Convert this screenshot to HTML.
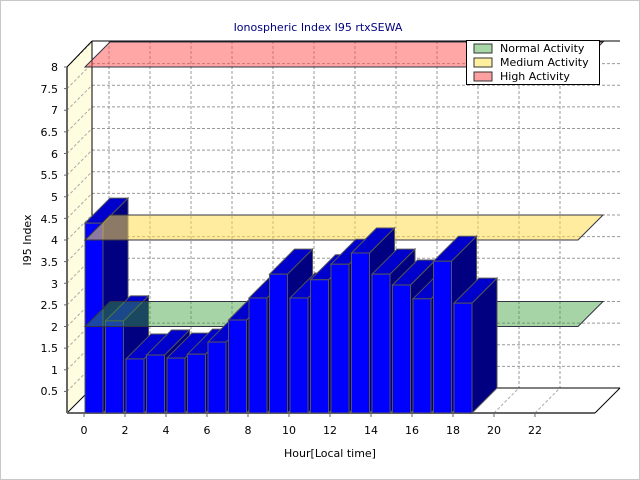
<!DOCTYPE html>
<html><head><meta charset="utf-8"><style>
html,body{margin:0;padding:0;background:#fff}
svg{display:block;font-family:"DejaVu Sans","Liberation Sans",sans-serif}
</style></head><body>
<svg id="s" width="640" height="480" viewBox="0 0 640 480" xmlns="http://www.w3.org/2000/svg">
<rect x="0.5" y="0.5" width="639" height="479" fill="#fff" stroke="#c8c8c8"/>
<text x="318" y="31" font-size="11" fill="#000080" text-anchor="middle">Ionospheric Index I95 rtxSEWA</text>
<g id="grid"></g>
<g id="bars1"></g>
<g id="bands"></g>
<g id="bars2"></g>
<g font-size="11" fill="#000" text-anchor="end">
<text x="58" y="71">8</text><text x="58" y="93">7.5</text><text x="58" y="114">7</text><text x="58" y="136">6.5</text><text x="58" y="158">6</text><text x="58" y="179">5.5</text><text x="58" y="201">5</text><text x="58" y="223">4.5</text><text x="58" y="244">4</text><text x="58" y="266">3.5</text><text x="58" y="288">3</text><text x="58" y="309">2.5</text><text x="58" y="331">2</text><text x="58" y="352">1.5</text><text x="58" y="374">1</text><text x="58" y="395">0.5</text>
</g>
<g font-size="11" fill="#000" text-anchor="middle">
<text x="84" y="434">0</text><text x="125" y="434">2</text><text x="166" y="434">4</text><text x="207" y="434">6</text><text x="248" y="434">8</text><text x="289" y="434">10</text><text x="330" y="434">12</text><text x="371" y="434">14</text><text x="412" y="434">16</text><text x="453" y="434">18</text><text x="494" y="434">20</text><text x="535" y="434">22</text>
<text x="330" y="457">Hour[Local time]</text>
</g>
<text transform="translate(31,240) rotate(-90)" font-size="11" text-anchor="middle">I95 Index</text>
<g font-size="11">
<rect x="466.5" y="40.5" width="133" height="44" fill="#fff" stroke="#000"/>
<rect x="470" y="43" width="129" height="41" fill="none" stroke="#888" stroke-width="0"/>
<rect x="474" y="44" width="18" height="9" fill="#a8d8a8" stroke="#333"/>
<text x="500" y="52">Normal Activity</text>
<rect x="474" y="58" width="18" height="9" fill="#fff0a0" stroke="#333"/>
<text x="500" y="66">Medium Activity</text>
<rect x="474" y="72" width="18" height="9" fill="#ffa0a0" stroke="#333"/>
<text x="500" y="80">High Activity</text>
</g>
</svg>
<script>
var NS="http://www.w3.org/2000/svg";
function el(p,t,a){var e=document.createElementNS(NS,t);for(var k in a)e.setAttribute(k,a[k]);document.getElementById(p).appendChild(e);return e;}
function poly(p,pts,a){a.points=pts.map(function(q){return q.join(",")}).join(" ");return el(p,"polygon",a);}
var D=25,S=43.25;
function yf(v){return 413-S*v;}
// walls
poly("grid",[[67,67],[92,41],[92,388],[67,413]],{fill:"#fffde0",stroke:"none"});
poly("grid",[[67,413],[92,388],[620,388],[595,413]],{fill:"#fff",stroke:"none"});
for(var i=1;i<=16;i++){var v=i*0.5,yb=388-S*v;
 if(i<16)el("grid","line",{x1:92,y1:yb,x2:620,y2:yb,stroke:"#999","stroke-dasharray":"3,2"});
 el("grid","line",{x1:67,y1:yf(v),x2:92,y2:yb,stroke:"#aaa","stroke-dasharray":"3,2"});
 el("grid","line",{x1:64,y1:yf(v),x2:67,y2:yf(v),stroke:"#666"});}
for(var h=0;h<24;h+=2){var x=84+20.5*h;
 el("grid","line",{x1:x+D,y1:41,x2:x+D,y2:388,stroke:"#999","stroke-dasharray":"3,2"});
 el("grid","line",{x1:x,y1:413,x2:x+D,y2:388,stroke:"#aaa","stroke-dasharray":"3,2"});
 el("grid","line",{x1:x,y1:413,x2:x,y2:417,stroke:"#666"});}
el("grid","line",{x1:92,y1:41,x2:620,y2:41,stroke:"#000"});
el("grid","line",{x1:92,y1:41,x2:92,y2:388,stroke:"#000"});
el("grid","line",{x1:92,y1:388,x2:620,y2:388,stroke:"#000"});
el("grid","line",{x1:67,y1:67,x2:92,y2:41,stroke:"#000"});
el("grid","line",{x1:67,y1:413,x2:92,y2:388,stroke:"#000"});
el("grid","line",{x1:595,y1:413,x2:620,y2:388,stroke:"#000"});
el("grid","line",{x1:67,y1:413,x2:595,y2:413,stroke:"#666","stroke-width":2});
el("grid","line",{x1:67,y1:67,x2:67,y2:413,stroke:"#666","stroke-width":2});
var vals=[4.39,2.13,1.25,1.34,1.27,1.36,1.64,2.15,2.66,3.21,2.66,3.08,3.44,3.70,3.21,2.96,2.64,3.51,2.54];
vals.forEach(function(v,h){var g=h<2?"bars1":"bars2",x0=85+20.5*h,yt=yf(v),w=18;
 var st={stroke:"#555","stroke-width":1};
 poly(g,[[x0+w,yt],[x0+w+D,yt-D],[x0+w+D,388],[x0+w,413]],Object.assign({fill:"#000080"},st));
 poly(g,[[x0,yt],[x0+D,yt-D],[x0+w+D,yt-D],[x0+w,yt]],Object.assign({fill:"#0000cc"},st));
 el(g,"rect",Object.assign({x:x0,y:yt,width:w,height:413-yt,fill:"#0000ff"},st));});
[[2,"rgba(60,160,60,0.45)"],[4,"rgba(255,220,80,0.55)"],[8,"rgba(255,80,80,0.5)"]].forEach(function(b){
 var y=yf(b[0]);poly("bands",[[85,y],[85+D,y-D],[603,y-D],[578,y]],{fill:b[1],stroke:"#334","stroke-width":1});});
</script>
</body></html>
